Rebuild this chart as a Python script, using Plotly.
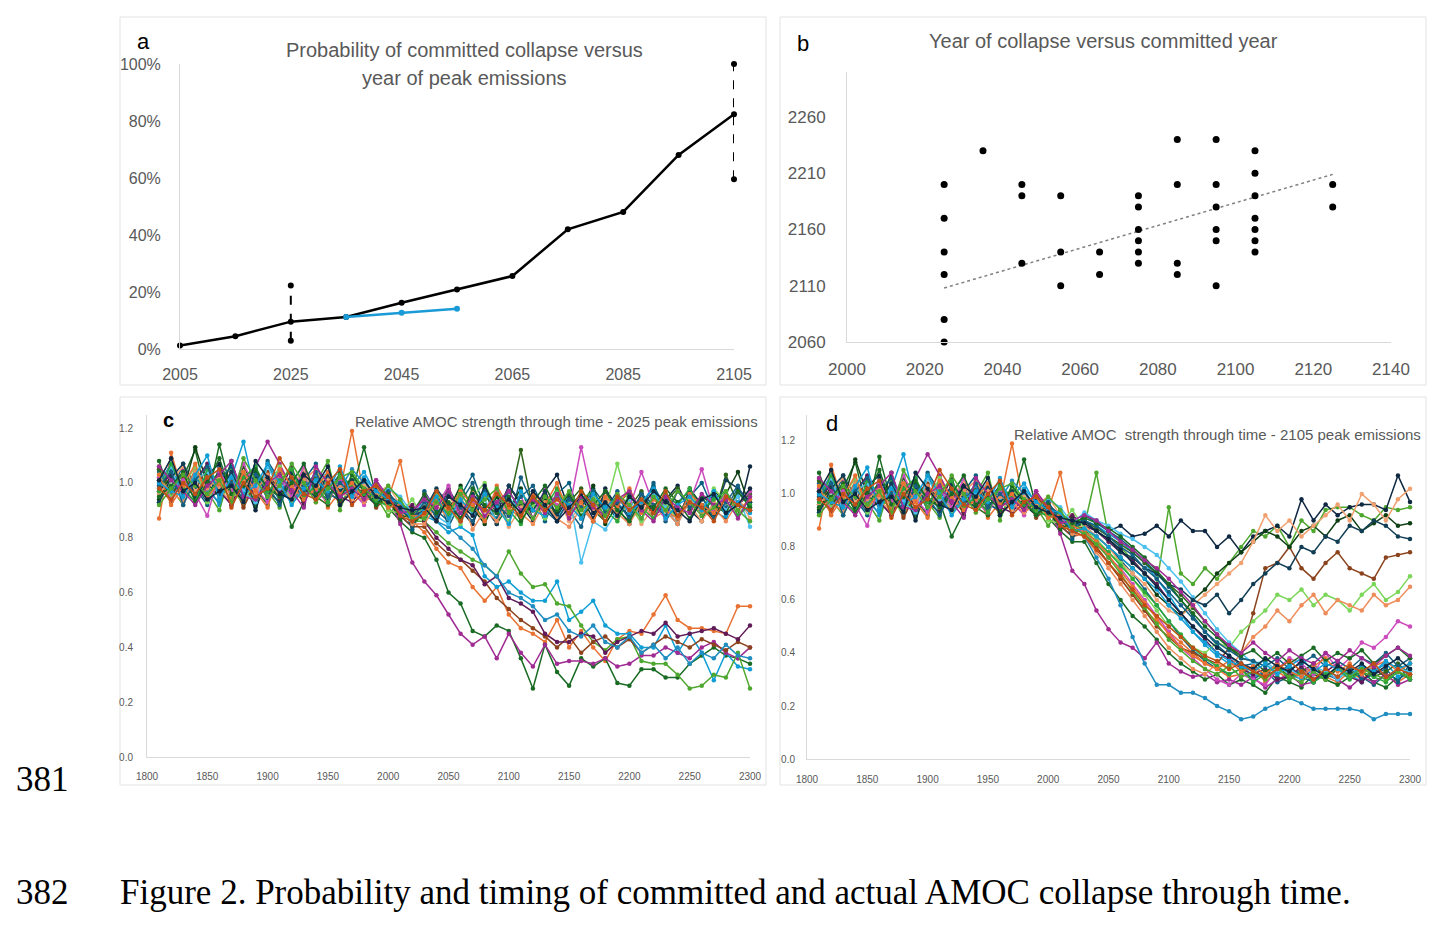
import plotly.graph_objects as go

W, H = 1456, 934
FONT = "Liberation Sans, Arial, sans-serif"
GREY = "#595959"
AXIS = "#d9d9d9"

# ---- panel a: probability of committed collapse vs year of peak emissions
peak_years = [2005, 2015, 2025, 2035, 2045, 2055, 2065, 2075, 2085, 2095, 2105]
prob_collapse = [0.012, 0.045, 0.096, 0.112, 0.162, 0.209, 0.256, 0.42, 0.481, 0.681, 0.824]
alt_years = [2035, 2045, 2055]
alt_prob = [0.112, 0.127, 0.141]
range_2025 = [0.029, 0.223]
range_2105 = [0.596, 1.0]

# ---- panel b: year of collapse vs committed year
committed_year = [2025, 2025, 2025, 2025, 2025, 2025, 2035, 2045, 2045, 2045,
                  2055, 2055, 2055, 2065, 2065, 2075, 2075, 2075, 2075, 2075,
                  2075, 2085, 2085, 2085, 2085, 2095, 2095, 2095, 2095, 2095,
                  2095, 2105, 2105, 2105, 2105, 2105, 2105, 2105, 2125, 2125]
collapse_year = [2200, 2170, 2140, 2120, 2080, 2060, 2230, 2200, 2190, 2130,
                 2190, 2140, 2110, 2140, 2120, 2190, 2180, 2160, 2150, 2140,
                 2130, 2240, 2200, 2130, 2120, 2240, 2200, 2180, 2160, 2150,
                 2110, 2230, 2210, 2190, 2170, 2160, 2150, 2140, 2200, 2180]
trend_years = [2025, 2125]
trend_values = [2108, 2209]

# ---- panels c, d: relative AMOC strength (x100), shared history 1810-2020
years_hist = list(range(1810, 2021, 10))
years_future = list(range(2030, 2301, 10))

hist_runs = [
    [104, 96, 107, 99, 93, 106, 97, 103, 92, 108, 101, 95, 104, 94, 98, 103, 93, 99, 92, 94, 88, 84],
    [87, 111, 96, 105, 93, 99, 104, 92, 101, 95, 106, 98, 93, 101, 91, 97, 119, 95, 100, 94, 108, 86],
    [108, 95, 102, 112, 94, 114, 97, 104, 91, 107, 97, 84, 93, 102, 94, 103, 97, 113, 95, 91, 86, 82],
    [93, 101, 95, 104, 99, 92, 102, 115, 96, 103, 93, 101, 106, 95, 102, 92, 99, 104, 96, 94, 90, 88],
    [101, 94, 105, 96, 103, 98, 92, 101, 106, 115, 107, 98, 102, 94, 101, 97, 96, 93, 100, 95, 85, 71],
    [106, 98, 92, 102, 97, 90, 105, 95, 103, 97, 91, 104, 94, 100, 108, 90, 102, 97, 95, 88, 94, 86],
    [96, 105, 98, 93, 103, 107, 95, 101, 90, 103, 98, 93, 105, 97, 94, 101, 98, 96, 92, 97, 89, 87],
    [99, 93, 102, 97, 106, 95, 101, 91, 100, 104, 94, 101, 95, 103, 97, 93, 96, 100, 91, 95, 88, 84],
    [94, 103, 97, 113, 100, 95, 108, 94, 104, 98, 96, 103, 92, 105, 96, 99, 94, 98, 93, 94, 87, 91],
    [102, 95, 104, 98, 92, 101, 106, 96, 103, 94, 104, 95, 101, 107, 96, 94, 101, 93, 97, 91, 94, 83],
    [97, 104, 94, 101, 107, 97, 92, 103, 95, 101, 97, 106, 93, 100, 103, 95, 93, 99, 95, 96, 89, 92],
    [105, 96, 101, 94, 99, 104, 95, 106, 98, 92, 103, 96, 101, 95, 92, 104, 97, 95, 100, 92, 91, 85],
    [100, 107, 95, 102, 97, 93, 104, 98, 106, 95, 101, 93, 99, 103, 95, 98, 105, 100, 93, 97, 88, 90],
    [96, 101, 106, 97, 102, 98, 93, 104, 96, 102, 95, 99, 105, 93, 101, 97, 94, 99, 96, 99, 92, 87],
    [103, 95, 99, 106, 93, 102, 97, 93, 101, 98, 106, 93, 97, 104, 99, 96, 102, 94, 98, 90, 89, 94],
    [98, 106, 93, 101, 104, 95, 103, 97, 93, 106, 98, 102, 95, 100, 104, 98, 95, 102, 94, 98, 95, 89],
    [102, 94, 101, 96, 88, 104, 97, 107, 98, 93, 102, 95, 106, 97, 93, 101, 97, 92, 101, 94, 91, 87],
    [93, 102, 107, 95, 101, 97, 104, 95, 102, 97, 93, 104, 98, 95, 103, 97, 101, 95, 98, 96, 92, 88],
    [101, 97, 93, 104, 98, 102, 95, 101, 97, 103, 99, 94, 101, 105, 95, 99, 97, 93, 96, 93, 90, 85],
    [97, 107, 98, 93, 105, 100, 94, 102, 106, 97, 101, 105, 95, 99, 93, 103, 99, 96, 93, 92, 93, 89],
    [99, 104, 92, 101, 106, 96, 100, 94, 103, 99, 92, 101, 97, 104, 95, 100, 96, 101, 94, 97, 90, 87],
    [103, 92, 99, 107, 95, 100, 94, 104, 97, 91, 105, 99, 94, 98, 104, 96, 100, 94, 99, 91, 92, 88],
    [95, 99, 104, 93, 100, 109, 96, 99, 105, 98, 95, 100, 107, 96, 99, 94, 103, 97, 92, 96, 87, 89],
    [100, 97, 95, 103, 110, 94, 102, 96, 99, 107, 100, 92, 98, 101, 97, 106, 95, 102, 97, 94, 93, 86],
    [106, 101, 97, 92, 99, 103, 108, 95, 94, 100, 103, 97, 91, 106, 100, 95, 98, 94, 101, 95, 89, 90],
    [92, 98, 103, 99, 96, 101, 93, 109, 101, 95, 99, 107, 100, 93, 98, 102, 104, 98, 94, 99, 94, 87],
    [101, 109, 97, 100, 94, 97, 99, 93, 108, 102, 96, 94, 103, 99, 106, 92, 97, 101, 95, 93, 91, 90],
    [98, 94, 100, 96, 102, 105, 91, 100, 95, 98, 109, 102, 96, 94, 100, 105, 92, 97, 99, 95, 88, 86],
]

future_2025 = [
    [90, 97, 84, 93, 100, 87, 95, 85, 102, 92, 87, 97, 90, 84, 98, 92, 87, 96, 90, 100, 86, 93, 97, 88, 95, 91, 98, 92],
    [82, 76, 71, 69, 62, 57, 62, 52, 47, 45, 42, 50, 40, 46, 40, 35, 43, 46, 45, 52, 59, 50, 47, 47, 46, 45, 55, 55],
    [80, 72, 60, 56, 46, 44, 48, 46, 36, 25, 41, 31, 26, 36, 33, 36, 27, 26, 32, 32, 29, 29, 34, 37, 40, 37, 36, 34],
    [88, 86, 82, 84, 81, 66, 62, 64, 60, 57, 57, 64, 50, 53, 57, 48, 45, 45, 40, 40, 48, 38, 45, 38, 28, 38, 33, 32],
    [64, 59, 52, 45, 41, 44, 36, 45, 38, 33, 41, 34, 35, 35, 34, 36, 33, 34, 37, 37, 40, 38, 36, 40, 42, 38, 36, 40],
    [86, 82, 78, 75, 72, 70, 66, 75, 67, 62, 63, 56, 55, 48, 42, 39, 43, 44, 35, 34, 34, 30, 25, 26, 30, 29, 38, 25],
    [95, 87, 98, 90, 85, 96, 89, 99, 92, 86, 97, 103, 90, 95, 87, 98, 91, 85, 96, 89, 94, 99, 90, 86, 97, 93, 88, 106],
    [84, 78, 74, 72, 68, 64, 58, 54, 50, 47, 44, 40, 44, 38, 42, 44, 40, 43, 38, 41, 44, 42, 40, 43, 41, 39, 42, 40],
    [86, 96, 90, 99, 91, 85, 95, 90, 98, 87, 94, 89, 96, 91, 99, 85, 92, 97, 87, 95, 90, 85, 98, 92, 87, 96, 104, 91],
    [97, 90, 86, 95, 103, 91, 87, 97, 90, 95, 86, 96, 100, 87, 94, 90, 97, 86, 92, 99, 91, 88, 95, 100, 90, 87, 96, 93],
    [86, 80, 76, 72, 70, 63, 66, 58, 56, 53, 45, 42, 42, 45, 44, 38, 42, 44, 46, 45, 49, 44, 45, 46, 47, 45, 43, 48],
    [89, 94, 97, 87, 91, 98, 85, 92, 112, 90, 96, 87, 93, 98, 90, 86, 95, 91, 97, 87, 93, 98, 90, 95, 88, 103, 92, 96],
    [90, 86, 84, 80, 76, 70, 66, 60, 58, 55, 50, 52, 46, 44, 48, 42, 40, 44, 38, 41, 36, 40, 34, 38, 36, 41, 37, 36],
    [92, 86, 95, 90, 97, 87, 93, 84, 91, 96, 88, 95, 86, 92, 90, 97, 87, 93, 85, 91, 96, 88, 92, 86, 93, 90, 95, 87],
    [87, 96, 91, 85, 95, 100, 90, 86, 96, 92, 87, 97, 93, 88, 95, 90, 107, 91, 86, 97, 92, 87, 96, 90, 98, 93, 88, 95],
    [93, 88, 85, 96, 90, 94, 86, 95, 89, 97, 91, 87, 96, 71, 86, 83, 90, 94, 87, 96, 91, 85, 94, 89, 97, 90, 95, 84],
    [96, 91, 99, 86, 93, 90, 97, 88, 95, 87, 98, 92, 90, 113, 93, 88, 96, 91, 104, 92, 87, 97, 93, 105, 90, 96, 92, 97],
    [90, 98, 92, 87, 96, 91, 85, 99, 93, 90, 97, 88, 95, 91, 86, 97, 92, 88, 96, 90, 95, 87, 97, 92, 88, 101, 98, 93],
    [85, 92, 87, 96, 83, 90, 86, 94, 89, 85, 93, 87, 84, 91, 86, 94, 89, 85, 93, 87, 90, 85, 94, 89, 91, 86, 93, 90],
    [91, 95, 88, 98, 92, 87, 96, 90, 85, 95, 91, 98, 88, 94, 97, 90, 86, 95, 91, 87, 96, 92, 98, 90, 94, 97, 88, 92],
    [93, 88, 96, 91, 86, 97, 92, 88, 95, 99, 90, 86, 94, 91, 97, 89, 93, 87, 96, 92, 88, 97, 91, 95, 87, 93, 99, 90],
    [88, 94, 90, 97, 92, 86, 99, 91, 87, 96, 92, 100, 88, 93, 86, 95, 91, 98, 89, 94, 90, 87, 96, 92, 89, 95, 90, 94],
    [96, 89, 93, 87, 98, 92, 89, 95, 86, 93, 99, 90, 96, 88, 92, 97, 90, 86, 94, 91, 98, 93, 87, 95, 92, 89, 97, 91],
    [90, 95, 87, 94, 89, 96, 91, 85, 97, 90, 88, 95, 92, 87, 96, 91, 95, 89, 93, 98, 87, 92, 95, 90, 97, 88, 93, 89],
    [94, 91, 97, 89, 95, 88, 93, 97, 90, 94, 89, 96, 87, 95, 91, 88, 94, 97, 90, 86, 95, 91, 89, 96, 92, 94, 87, 95],
    [87, 93, 89, 96, 90, 94, 98, 89, 93, 87, 95, 91, 97, 90, 94, 88, 96, 92, 87, 95, 90, 97, 93, 88, 91, 97, 90, 86],
    [91, 86, 95, 92, 88, 99, 90, 94, 89, 97, 92, 86, 91, 96, 89, 93, 88, 95, 91, 97, 93, 90, 86, 94, 96, 89, 92, 98],
    [89, 97, 91, 86, 94, 90, 96, 92, 88, 95, 90, 94, 89, 97, 92, 86, 95, 90, 94, 89, 97, 88, 93, 91, 86, 95, 92, 90],
]

future_2105 = [
    [88, 84, 80, 75, 70, 64, 58, 52, 46, 41, 37, 34, 32, 34, 30, 33, 29, 31, 34, 29, 32, 30, 34, 31, 28, 32, 30, 33],
    [84, 80, 74, 68, 62, 56, 52, 48, 44, 40, 36, 34, 31, 32, 35, 29, 33, 30, 32, 36, 31, 29, 33, 30, 34, 31, 29, 32],
    [82, 74, 66, 60, 54, 50, 45, 40, 36, 33, 30, 32, 28, 30, 28, 25, 31, 29, 27, 32, 30, 28, 31, 33, 29, 27, 31, 34],
    [90, 88, 85, 82, 78, 74, 68, 62, 55, 48, 43, 39, 36, 35, 31, 33, 36, 32, 30, 34, 31, 35, 32, 29, 33, 36, 31, 34],
    [66, 56, 49, 44, 42, 38, 44, 36, 33, 31, 32, 29, 30, 28, 31, 27, 30, 32, 28, 29, 33, 30, 27, 31, 29, 32, 28, 30],
    [88, 108, 84, 80, 75, 70, 66, 95, 70, 66, 72, 68, 74, 80, 86, 84, 88, 80, 90, 86, 94, 95, 95, 92, 90, 95, 94, 95],
    [92, 90, 86, 88, 84, 85, 88, 84, 90, 86, 86, 80, 84, 78, 84, 86, 88, 84, 98, 90, 96, 92, 95, 96, 96, 94, 107, 97],
    [85, 80, 74, 68, 62, 56, 50, 46, 42, 40, 38, 36, 42, 40, 55, 72, 74, 80, 72, 68, 74, 78, 72, 70, 68, 76, 77, 78],
    [86, 84, 80, 76, 72, 68, 62, 58, 54, 60, 64, 70, 74, 78, 82, 86, 84, 80, 86, 88, 84, 90, 92, 86, 89, 92, 88, 89],
    [92, 89, 86, 83, 79, 75, 70, 65, 60, 54, 48, 43, 39, 35, 36, 31, 33, 35, 31, 29, 34, 31, 35, 30, 32, 34, 29, 36],
    [88, 86, 82, 78, 75, 70, 66, 60, 55, 50, 45, 40, 38, 34, 32, 34, 30, 31, 35, 30, 33, 36, 31, 29, 34, 31, 33, 30],
    [90, 87, 84, 81, 78, 74, 70, 66, 62, 57, 52, 47, 42, 38, 37, 33, 35, 31, 33, 36, 30, 34, 32, 35, 31, 33, 36, 32],
    [84, 76, 68, 58, 46, 36, 28, 28, 25, 25, 23, 20, 18, 15, 16, 19, 21, 23, 21, 19, 19, 19, 19, 18, 15, 17, 17, 17],
    [88, 84, 80, 74, 70, 66, 60, 56, 54, 58, 62, 66, 70, 74, 82, 92, 86, 90, 84, 88, 92, 96, 90, 100, 96, 90, 98, 102],
    [87, 83, 78, 74, 68, 62, 56, 50, 46, 42, 40, 44, 42, 48, 52, 56, 62, 60, 64, 58, 62, 60, 56, 62, 66, 60, 63, 69],
    [93, 90, 88, 85, 83, 80, 77, 72, 67, 61, 55, 49, 44, 40, 36, 37, 33, 34, 31, 35, 33, 30, 34, 32, 36, 31, 34, 33],
    [86, 82, 76, 72, 66, 60, 54, 48, 42, 38, 34, 30, 28, 32, 30, 28, 34, 38, 36, 32, 40, 34, 38, 44, 42, 46, 52, 50],
    [90, 86, 83, 78, 76, 72, 70, 66, 64, 60, 58, 62, 55, 60, 66, 70, 74, 72, 80, 78, 84, 82, 88, 86, 90, 88, 84, 83],
    [84, 78, 72, 66, 60, 54, 48, 42, 38, 34, 32, 36, 34, 40, 46, 50, 56, 52, 58, 62, 55, 60, 58, 56, 62, 58, 60, 65],
    [86, 82, 78, 73, 68, 63, 58, 52, 47, 42, 38, 35, 32, 34, 29, 32, 35, 30, 33, 29, 32, 34, 30, 33, 31, 29, 33, 30],
    [90, 88, 84, 80, 77, 72, 68, 63, 58, 53, 48, 44, 41, 38, 37, 35, 38, 34, 36, 39, 35, 37, 34, 38, 36, 40, 35, 38],
    [86, 82, 77, 71, 65, 59, 53, 47, 42, 39, 36, 34, 37, 33, 35, 32, 36, 33, 31, 35, 38, 33, 36, 32, 35, 37, 33, 36],
    [91, 89, 87, 84, 80, 76, 71, 66, 60, 55, 50, 46, 42, 39, 41, 37, 40, 36, 39, 42, 37, 40, 38, 41, 36, 39, 42, 38],
    [87, 84, 80, 76, 72, 68, 64, 58, 53, 48, 44, 40, 37, 35, 33, 36, 32, 35, 38, 33, 36, 34, 31, 35, 33, 37, 34, 36],
    [92, 90, 86, 82, 79, 75, 72, 68, 63, 58, 52, 47, 43, 40, 44, 40, 37, 41, 38, 36, 40, 37, 41, 38, 35, 39, 42, 39],
    [85, 81, 76, 70, 63, 57, 51, 45, 41, 37, 34, 32, 35, 31, 33, 30, 34, 31, 29, 33, 30, 35, 31, 34, 32, 30, 33, 31],
    [89, 86, 83, 79, 74, 70, 65, 60, 55, 50, 46, 42, 39, 36, 34, 38, 35, 33, 37, 34, 31, 35, 33, 36, 32, 35, 38, 34],
    [84, 79, 74, 69, 64, 58, 54, 50, 46, 42, 39, 37, 34, 36, 33, 31, 34, 37, 33, 30, 34, 31, 35, 33, 36, 31, 34, 32],
]

run_colors = ["#156082", "#E97132", "#196B24", "#0F9ED5", "#A02B93", "#4EA72E",
              "#0E2841", "#8B431E", "#0F4015", "#095F80", "#601A58", "#2F641B",
              "#1F8DC0", "#F1A170", "#7CD65A", "#4CC0EE", "#CC4BBD", "#123E55",
              "#EE8D5B", "#2AA83B", "#156082", "#E97132", "#196B24", "#0F9ED5",
              "#A02B93", "#4EA72E", "#0E2841", "#C04F15"]


def px(x):
    return x / W


def py(y):
    return 1 - y / H


fig = go.Figure()

# panel a
fig.add_trace(go.Scatter(x=peak_years, y=prob_collapse, mode="lines+markers",
                         line=dict(color="black", width=2.5), marker=dict(size=6, color="black"),
                         xaxis="x", yaxis="y", cliponaxis=False))
fig.add_trace(go.Scatter(x=alt_years, y=alt_prob, mode="lines+markers",
                         line=dict(color="#1A9AD6", width=2.5), marker=dict(size=6, color="#1A9AD6"),
                         xaxis="x", yaxis="y", cliponaxis=False))
for yr, rng in [(2025, range_2025), (2105, range_2105)]:
    fig.add_trace(go.Scatter(x=[yr, yr], y=rng, mode="lines+markers",
                             line=dict(color="black", width=2, dash="dash"),
                             marker=dict(size=6, color="black"),
                             xaxis="x", yaxis="y", cliponaxis=False))

# panel b
fig.add_trace(go.Scatter(x=trend_years, y=trend_values, mode="lines",
                         line=dict(color="#808080", width=1.5, dash="dot"),
                         xaxis="x2", yaxis="y2"))
fig.add_trace(go.Scatter(x=committed_year, y=collapse_year, mode="markers",
                         marker=dict(size=7, color="black"),
                         xaxis="x2", yaxis="y2", cliponaxis=False))

# panels c and d
for future, xa, ya in [(future_2025, "x3", "y3"), (future_2105, "x4", "y4")]:
    for i, (h, f) in enumerate(zip(hist_runs, future)):
        fig.add_trace(go.Scatter(x=years_hist + years_future, y=[v / 100 for v in h + f],
                                 mode="lines+markers",
                                 line=dict(color=run_colors[i], width=1.5),
                                 marker=dict(size=4.5, color=run_colors[i]),
                                 xaxis=xa, yaxis=ya, cliponaxis=False))

base = dict(showgrid=False, zeroline=False, showline=True, linecolor=AXIS, linewidth=1,
            ticks="", color=GREY, automargin=False)

layout = dict(
    width=W, height=H, autosize=False, showlegend=False,
    margin=dict(l=0, r=0, t=0, b=0, pad=0, autoexpand=False),
    paper_bgcolor="white", plot_bgcolor="white",
    font=dict(family=FONT, color=GREY),
    xaxis=dict(base, domain=[px(180), px(734)], range=[2005, 2105], anchor="y",
               tickvals=[2005, 2025, 2045, 2065, 2085, 2105],
               tickfont=dict(size=16), ticklabelstandoff=11),
    yaxis=dict(base, domain=[py(349), py(64)], range=[0, 1], anchor="x",
               tickvals=[0, 0.2, 0.4, 0.6, 0.8, 1.0], tickformat=".0%",
               tickfont=dict(size=16), ticklabelstandoff=15),
    xaxis2=dict(base, domain=[px(847), px(1391)], range=[2000, 2140], anchor="y2",
                dtick=20, tick0=2000, tickfont=dict(size=17), ticklabelstandoff=12),
    yaxis2=dict(base, domain=[py(342), py(72)], range=[2060, 2300], anchor="x2",
                tickvals=[2060, 2110, 2160, 2210, 2260],
                tickfont=dict(size=17), ticklabelstandoff=17),
    xaxis3=dict(base, domain=[px(147), px(750)], range=[1800, 2300], anchor="y3",
                dtick=50, tick0=1800, tickfont=dict(size=10), ticklabelstandoff=10),
    yaxis3=dict(base, domain=[py(757), py(415)], range=[0, 1.248], anchor="x3",
                tickvals=[0, 0.2, 0.4, 0.6, 0.8, 1.0, 1.2], tickformat=".1f",
                tickfont=dict(size=10), ticklabelstandoff=11),
    xaxis4=dict(base, domain=[px(807), px(1410)], range=[1800, 2300], anchor="y4",
                dtick=50, tick0=1800, tickfont=dict(size=10), ticklabelstandoff=11),
    yaxis4=dict(base, domain=[py(759), py(415)], range=[0, 1.298], anchor="x4",
                tickvals=[0, 0.2, 0.4, 0.6, 0.8, 1.0, 1.2], tickformat=".1f",
                tickfont=dict(size=10), ticklabelstandoff=9),
)
fig.update_layout(layout)

# panel frames
for x0, y0, x1, y1 in [(120, 17, 766, 385), (780, 17, 1426, 385),
                       (120, 397, 766, 785), (780, 397, 1426, 785)]:
    fig.add_shape(type="rect", xref="paper", yref="paper",
                  x0=px(x0), x1=px(x1), y0=py(y1), y1=py(y0),
                  line=dict(color="#e3e3e3", width=1), layer="below")


def note(text, x, y, size, color=GREY, family=FONT, xanchor="center"):
    fig.add_annotation(text=text, x=px(x), y=py(y), xref="paper", yref="paper",
                       showarrow=False, xanchor=xanchor, yanchor="middle",
                       font=dict(size=size, color=color, family=family))


note("Probability of committed collapse versus", 465, 50, 20)
note("year of peak emissions", 465, 78, 20)
note("Year of collapse versus committed year", 1103, 41, 20)
note("Relative AMOC strength through time - 2025 peak emissions", 556, 421, 15)
note("Relative AMOC  strength through time - 2105 peak emissions", 1217, 435, 15)
note("a", 143, 41, 22, color="black")
note("b", 803, 43, 22, color="black")
note("<b>c</b>", 168, 420, 20, color="black")
note("d", 832, 423, 22, color="black")

SERIF = "Liberation Serif, Times New Roman, serif"
note("381", 14, 779, 35, color="black", family=SERIF, xanchor="left")
note("382", 14, 892, 35, color="black", family=SERIF, xanchor="left")
note("Figure 2. Probability and timing of committed and actual AMOC collapse through time.",
     118, 892, 35, color="black", family=SERIF, xanchor="left")

fig.write_html("out.html", config={"displayModeBar": False},
               post_script="document.body.style.margin = '0';")
